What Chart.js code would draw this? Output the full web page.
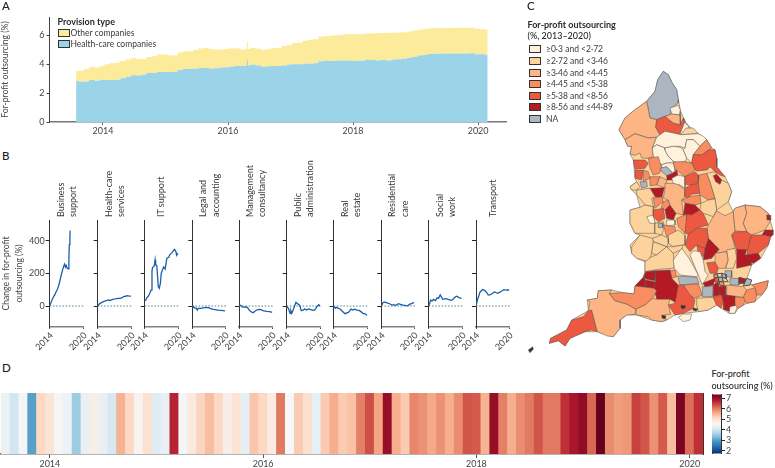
<!DOCTYPE html>
<html><head><meta charset="utf-8">
<style>
html,body{margin:0;padding:0;background:#fff;width:775px;height:468px;overflow:hidden}
body{position:relative;font-family:Lato,sans-serif;color:#333}
canvas{position:absolute}
.t{position:absolute;white-space:nowrap;font-size:8.5px;line-height:10px;color:#3a3a3a}
.b{font-weight:700;color:#2a2a2a;font-size:9px}
.l{font-size:11.5px;line-height:12px;font-weight:500;color:#222}
.s{position:absolute;box-sizing:border-box;border:1px solid #333}
.r{transform:rotate(-90deg);transform-origin:0 0;font-size:9px}
</style>
<script src="https://cdn.jsdelivr.net/npm/chart.js@4/dist/chart.umd.min.js"></script>
</head><body>
<script>
// ---------- Panel A ----------
const healthA=[2.83,2.80,2.78,2.90,2.85,2.92,2.90,2.90,2.92,3.02,3.12,3.24,3.22,3.26,3.38,3.38,3.46,3.46,3.46,3.48,3.60,3.67,3.66,3.69,3.73,3.74,3.70,3.72,3.76,3.78,3.84,3.88,3.88,3.90,3.95,3.90,3.82,3.85,3.88,3.88,3.90,3.98,4.00,4.00,4.02,4.02,4.06,4.20,4.24,4.22,4.24,4.26,4.26,4.24,4.22,4.24,4.30,4.28,4.26,4.28,4.26,4.30,4.34,4.38,4.44,4.50,4.60,4.64,4.70,4.72,4.72,4.73,4.73,4.74,4.74,4.73,4.75,4.69,4.68,4.64];
const otherA=[.69,.75,.88,.90,.91,.96,1.10,1.16,1.18,1.20,1.20,1.18,1.14,1.10,1.12,1.16,1.20,1.20,1.16,1.12,1.20,1.21,1.24,1.29,1.35,1.38,1.34,1.30,1.26,1.26,1.26,1.20,1.14,1.14,1.17,1.18,1.16,1.19,1.24,1.26,1.36,1.34,1.46,1.50,1.60,1.66,1.66,1.70,1.70,1.74,1.76,1.78,1.82,1.84,1.84,1.84,1.82,1.86,1.90,1.88,1.91,1.87,1.84,1.82,1.82,1.82,1.78,1.80,1.78,1.78,1.77,1.77,1.77,1.77,1.78,1.78,1.77,1.75,1.74,1.73];
const firstMonthA=2013.57;
const spikeBlue=[[2016.31,3.88],[2016.31,4.27]];
const spikeYellow=[[2016.31,5.0],[2016.31,5.55]];

// ---------- Panel B ----------
const panelNames=[["Business","support"],["Health-care","services"],["IT support"],["Legal and","accounting"],["Management","consultancy"],["Public","administration"],["Real","estate"],["Residential","care"],["Social","work"],["Transport"]];
const panelLefts=[49.7,97.7,144.7,192.3,239,286.7,333.7,381.3,428.7,476];
const businessSupport=[[2014,0],[2014.15,14],[2014.3,27],[2014.5,45],[2014.7,58],[2014.9,68],[2015.1,85],[2015.4,105],[2015.6,125],[2015.85,160],[2016.05,190],[2016.3,222],[2016.5,245],[2016.65,257],[2016.8,240],[2016.95,250],[2017.1,233],[2017.3,229],[2017.42,290],[2017.5,377],[2017.6,430],[2017.65,465]];
const healthServices=[[2014,0],[2014.2,10],[2014.42,16],[2014.7,21],[2015,27],[2015.4,31],[2015.9,37],[2016.2,34],[2016.8,43],[2017.2,44],[2017.6,47],[2018,47],[2018.3,50],[2018.6,58],[2019,60],[2019.2,64],[2019.5,62],[2019.9,60]];
const itSupport=[[2014,32],[2014.2,37],[2014.35,50],[2014.6,58],[2014.85,74],[2015.15,99],[2015.3,215],[2015.4,237],[2015.7,245],[2015.85,284],[2015.95,253],[2016.15,249],[2016.3,181],[2016.42,119],[2016.6,109],[2016.8,140],[2016.95,202],[2017.2,225],[2017.35,240],[2017.65,228],[2017.95,294],[2018.3,300],[2018.45,315],[2018.9,330],[2019.3,348],[2019.55,336],[2019.7,312],[2019.95,325]];
const legalAccounting=[[2014,-3],[2014.15,-8],[2014.3,-6],[2014.5,-14],[2014.7,-12],[2014.9,-25],[2015.1,-14],[2015.5,-14],[2016,-12],[2016.4,-9],[2016.9,-10],[2017.3,-14],[2017.6,-19],[2018.2,-22],[2018.6,-25],[2019.2,-27],[2020,-30]];
const managementConsultancy=[[2014,0],[2014.3,5],[2014.5,-4],[2014.8,-7],[2015.2,-6],[2015.5,-8],[2015.95,-30],[2016.3,-38],[2016.55,-41],[2016.95,-29],[2017.5,-21],[2018.0,-22],[2018.3,-29],[2019,-33],[2019.5,-34],[2020,-39]];
const publicAdministration=[[2014,0],[2014.3,-14],[2014.6,-45],[2014.75,-28],[2014.9,-45],[2015.2,-20],[2015.45,5],[2015.65,23],[2016.1,10],[2016.3,5],[2016.6,-29],[2017,-24],[2017.2,-17],[2017.5,-25],[2017.9,-18],[2018.3,-22],[2018.7,-27],[2019,-24],[2019.3,-8],[2019.7,8],[2020,0]];
const realEstate=[[2014,0],[2014.3,-14],[2014.5,-8],[2014.85,-14],[2015.2,-20],[2015.45,-29],[2016,-47],[2016.6,-39],[2017.1,-19],[2017.4,-25],[2017.7,-20],[2018.2,-25],[2018.5,-27],[2018.8,-33],[2019.2,-45],[2019.6,-48],[2020,-58]];
const residentialCare=[[2014,0],[2014.35,23],[2014.7,24],[2015,20],[2015.5,14],[2016,6],[2016.3,8],[2016.6,3],[2017.1,14],[2017.6,9],[2018,5],[2018.5,2],[2018.9,3],[2019.1,10],[2019.6,16],[2020,23]];
const socialWork=[[2014,0],[2014.2,20],[2014.35,37],[2014.6,30],[2014.85,41],[2015.2,33],[2015.5,50],[2015.75,47],[2016.05,68],[2016.5,41],[2017.1,45],[2017.6,40],[2018,35],[2018.3,40],[2018.7,55],[2019.0,60],[2019.4,52],[2019.85,47]];
const transport=[[2014,0],[2014.25,37],[2014.5,62],[2014.7,84],[2015.0,95],[2015.2,101],[2015.6,95],[2016.0,80],[2016.2,68],[2016.6,70],[2016.8,74],[2017.3,87],[2017.9,78],[2018.3,85],[2018.8,95],[2019,101],[2019.5,98],[2019.8,100],[2019.95,95]];
const panelSeries=[businessSupport,healthServices,itSupport,legalAccounting,managementConsultancy,publicAdministration,realEstate,residentialCare,socialWork,transport];
const zeroLine=[[2014,0],[2020.2,0]];

// ---------- Panel D ----------
const stripeValues=[4.4,4.0,4.5,3.0,5.15,4.95,4.6,4.4,3.55,4.35,4.75,4.35,4.1,5.55,5.15,4.65,5.0,4.2,4.35,6.75,4.5,4.85,5.2,5.45,5.15,4.75,4.95,4.3,5.35,5.15,4.8,6.05,4.55,5.3,5.05,4.3,5.3,5.6,5.3,5.4,6.0,6.4,5.7,7.05,5.6,5.3,5.95,5.85,5.65,5.85,5.6,5.9,6.35,6.3,5.55,7.05,6.0,5.6,5.9,6.05,6.35,6.05,6.05,6.65,6.9,7.1,6.2,7.4,5.9,5.75,5.8,6.5,6.35,5.85,6.3,5.45,7.25,6.15,6.65];
const stripeYearTicks={5:"2014",29:"2016",53:"2018",77:"2020"};
const rdbu=["#053061","#2166ac","#4393c3","#92c5de","#d1e5f0","#f7f7f7","#fddbc7","#f4a582","#d6604d","#b2182b","#67001f"];
const colourMin=1.72, colourMax=7.4;

// ---------- Panel C ----------
const mapColours=["#fff1dc","#fdd29b","#fcb583","#f98d60","#ec5840","#b41a24","#adb6c0","#333333"];
const legendLabels=["≥0·3 and <2·72","≥2·72 and <3·46","≥3·46 and <4·45","≥4·45 and <5·38","≥5·38 and <8·56","≥8·56 and ≤44·89","NA"];
const legendRows=[49.3,60.8,72.5,84,95.5,107,119];
const englandOutline=[[663.3,71.3],[668.3,74.7],[672.3,83],[676.7,89.7],[678.3,99.7],[680.7,111.3],[685,121.3],[689,126.3],[698.3,133.7],[706.7,139.7],[711.7,148],[715,149.7],[716.7,158],[716.7,166.7],[725,176.7],[728.3,183.3],[731.7,191.7],[728.3,201.7],[733.3,211.7],[735,208.3],[745,205],[760,206.7],[768.3,213.3],[773,230],[770.7,236.7],[768.3,245],[760.7,258.3],[751.7,265],[746.7,279.3],[751.7,285],[768.3,280.7],[766.7,288.3],[761.7,295],[755,301.7],[746.7,303.3],[738.3,308.3],[735,313.3],[729,313.3],[716.7,305],[708.3,310],[698.3,311.7],[683.3,313.3],[675,315],[666.7,320],[661.7,321.7],[651.7,320],[636.7,315],[626.7,315],[620,320],[620,328.3],[613.3,336.7],[597.3,331.7],[585,331.7],[570,338.3],[565,346],[558.3,340.7],[549.3,343.3],[550.7,338.3],[566.7,330],[571.7,320],[588.3,310.7],[587.3,300],[597.3,298.3],[598.3,290.7],[611.7,290],[623.3,292.7],[634,294],[635,286],[643.3,277.3],[645,271.7],[645,261.7],[636.7,258.3],[631.7,253.3],[630,245],[640,235],[635,233.3],[630,223.3],[630,210],[640,207.3],[636.7,195],[631.7,190],[630,186.7],[636.7,181.7],[635,178.3],[633.3,160],[630,154],[631.7,146.3],[627.7,146.3],[625,139.7],[619,129.7],[625,118],[635,109.7],[646.7,101.3],[655,91.3],[657.7,79.7]];
const mapShapes=[
[1,englandOutline],
[6,[[663.3,71.3],[668.3,74.7],[672.3,83],[676.7,89.7],[678.3,99.7],[678.3,103],[671.7,108],[670,114.7],[665,116.3],[656.7,119.7],[650,118],[646.7,101.3],[655,91.3],[657.7,79.7]]],
[2,[[646.7,101.3],[650,118],[656.7,119.7],[655.7,127.3],[660,134.7],[656.7,137.3],[648.3,138],[635,133.7],[625,139.7],[619,129.7],[625,118],[635,109.7]]],
[2,[[625,139.7],[635,133.7],[648.3,138],[656.7,137.3],[652.3,148],[653.3,156.3],[648.3,158.3],[641.7,158],[640,153],[635,155.3],[630,154],[631.7,146.3],[627.7,146.3]]],
[4,[[656.7,119.7],[665,116.3],[673.3,123],[680,124.7],[683.3,118],[685,121.3],[681.7,129.7],[680,134],[673.3,133],[665,131.3],[660,134.7],[655.7,127.3]]],
[0,[[670,108],[678.3,105.3],[680.7,111.3],[680,115],[671.7,114]]],
[2,[[665,116.3],[670,114.7],[671.7,114],[680,115],[680.7,121.3],[680,124.7],[673.3,123]]],
[0,[[683.3,118],[685,121.3],[681.7,129.7],[680,134],[686,134],[689,126.3],[686,124]]],
[1,[[686,128],[693.3,128],[698.3,133.7],[680.7,134.7]]],
[0,[[656.7,137.3],[660,134.7],[665,131.3],[673.3,133],[680.7,134.7],[698.3,133.7],[703.3,136.3],[706.7,139.7],[700,146.3],[693.3,139.7],[686.7,139.7],[685,148],[680,146.3],[673.3,146.3],[665,148],[656.7,144.7],[652.3,148]]],
[0,[[652.3,148],[656.7,144.7],[665,148],[665,150],[668,156],[675,163],[666.7,163],[661.7,164.7],[653.3,156.3]]],
[0,[[665,148],[673.3,146.3],[680,147.3],[683.3,149.7],[686.7,158],[685,161.7],[675,163],[668,156],[665,150]]],
[0,[[686.7,139.7],[693.3,139.7],[700,146.3],[693.3,154.7],[691.7,163],[686.7,158],[683.3,149.7],[685,148]]],
[3,[[700,146.3],[706.7,139.7],[711.7,148],[709,149.7],[701.7,155],[693.3,154.7]]],
[4,[[691.7,163],[693.3,154.7],[701.7,155],[709,149.7],[715,149.7],[716.7,158],[716.7,166.7],[725,176.7],[720,175],[715,171.7],[710,166.7],[707.3,170],[696.7,171],[695,170]]],
[0,[[661.7,164.7],[666.7,163],[675,163],[673.3,161.7],[675,170],[673,173.3],[666.7,166.7],[661.7,168.3]]],
[4,[[633.3,160],[645,160],[648.3,163.3],[645,168.3],[635,169]]],
[3,[[648.3,158.3],[658.3,156.7],[661.7,168.3],[659.3,173.3],[653.3,175],[650,168.3]]],
[3,[[673.3,161.7],[685,161.7],[691.7,163],[695,170],[685,176.7],[676.7,170],[675,170]]],
[6,[[660,168.3],[666.7,166.7],[672.7,173.3],[666.7,175.7],[661.7,171.7]]],
[5,[[666.7,175.7],[673,173.3],[676.7,170],[678,175],[675,180],[667,180]]],
[4,[[635,170],[643.3,170],[641.7,180],[635,178.3]]],
[3,[[643.3,170],[648.3,171.7],[650,178.3],[643.3,181.7]]],
[1,[[630,186.7],[636.7,181.7],[640,186.7],[636.7,190],[631.7,190]]],
[6,[[640,181.7],[646.7,181.7],[647.3,186.7],[641.7,188.3]]],
[3,[[650,176.7],[660,176.7],[656.7,185],[650,185.7]]],
[2,[[660,176.7],[667,180],[665,188.3],[664.3,187.7],[656.7,185]]],
[5,[[650,188.3],[664.3,187.7],[661.7,198.3],[655,196.7]]],
[1,[[636.7,190],[650,188.3],[655,196.7],[651.7,198.3],[653.3,206.7],[645,205],[640,198.3],[636.7,195]]],
[1,[[630,210],[640,207.3],[645,205],[653.3,206.7],[653.3,216.7],[655,223.3],[655,233.3],[646.7,233.3],[635,233.3],[630,223.3]]],
[0,[[646.7,216.7],[653.3,215],[655,223.3],[650,223.3]]],
[3,[[653.3,198.3],[661.7,196.7],[663.3,201.7],[655,208.3]]],
[3,[[663.3,201.7],[668.3,200],[670,205],[665,210],[661,208]]],
[4,[[653.3,210],[663.3,208.3],[665,218.3],[658.3,221.7],[653.3,216.7]]],
[5,[[665,210],[670,205],[676,213.3],[673.3,220],[666.7,218.3]]],
[2,[[665,183.3],[676.7,183.3],[685,190],[685,196.7],[681.7,200],[683.3,215],[676,213.3],[670,205],[668.3,200],[663.3,198.3],[665,188.3]]],
[0,[[671.7,178.3],[678,175],[685,176.7],[685,188.3],[680,185],[673.3,183.3]]],
[4,[[685,176.7],[695,171.7],[698.3,175],[698.3,183.3],[693.3,185],[685,184.3]]],
[4,[[690,185],[699.3,183.3],[700,193.3],[691.7,194.3],[688.3,198.3],[685,196.7],[685,188.3]]],
[3,[[699.3,175],[706.7,173.3],[710,181.7],[715,198.3],[708.3,200],[700,195],[698.3,183.3]]],
[3,[[689.3,196.7],[700,195],[701,203.3],[695,205],[685,203.3],[681.7,200]]],
[1,[[706.7,173.3],[715,171.7],[718.3,178.3],[728.3,183.3],[731.7,191.7],[728.3,201.7],[716.7,210],[715,198.3],[710,181.7]]],
[5,[[713.3,175.7],[716.7,174.3],[721.7,180],[720,184.3],[715.7,181.7]]],
[1,[[701,203.3],[708.3,200],[715,199],[716.7,210],[713.3,216.7],[703.3,213.3],[700,210]]],
[5,[[683.3,215],[685,203.3],[695,205],[700,210],[691.7,215],[686.7,214.3]]],
[3,[[676.7,218.3],[686.7,214.3],[686.7,225],[685,233.3],[678.3,226.7]]],
[4,[[686.7,214.3],[691.7,215],[700,210],[703.3,213.3],[708.3,225],[696.7,228.3],[688.3,234.3],[685,233.3]]],
[2,[[708.3,225],[713.3,216.7],[716.7,211],[725,215.7],[733.3,211.7],[735,231],[731.7,235],[735,248.3],[726.7,251.7],[715,253.3],[719,249.3],[708.3,238.3],[707,228.3]]],
[2,[[733.3,211.7],[735,208.3],[745,205],[746.7,213.3],[743.3,223.3],[748.3,235],[746.7,231.7],[735,231]]],
[2,[[745,205],[760,206.7],[768.3,213.3],[770,221.7],[765,230],[751.7,235],[748.3,235],[743.3,223.3],[746.7,213.3]]],
[5,[[766.7,215],[770,215],[770.7,220],[767,220]]],
[5,[[765,230],[773,230],[773,235],[770.7,236.7],[762,235]]],
[4,[[735,231.7],[746.7,231.7],[751.7,235],[750,240],[750,250],[736.7,250],[731.7,235]]],
[4,[[751.7,235],[765,235],[770.7,236.7],[768.3,245],[758.3,253.3],[746.7,255],[750,240]]],
[5,[[736.7,249.3],[746.7,250],[745,255],[750,255],[751.7,265],[736.7,268.3],[736.7,260]]],
[5,[[746.7,255],[758.3,253.3],[760.7,258.3],[753.3,263.3],[750,261.7]]],
[5,[[708.3,238.3],[719,249.3],[711.7,258.3],[703.3,260],[705,248.3]]],
[4,[[698.3,245],[705,248.3],[703.3,256.7],[698.3,253.3],[696.7,245]]],
[4,[[685,245],[688.3,234.3],[696.7,228.3],[707,228.3],[708.3,238.3],[705,248.3],[696.7,245],[690,251.7]]],
[1,[[655,223.3],[663.3,221.7],[664.3,226.7],[661.7,235],[655,233.3]]],
[0,[[666.7,220],[675,220],[675,225],[666.7,225.7]]],
[6,[[658.3,223.3],[662.7,223.3],[662.7,227.7],[658.3,227.7]]],
[3,[[663.3,225],[675,226.7],[676,235],[666.7,236.7]]],
[1,[[668.3,235],[678.3,230],[685,235],[685,245],[683.3,245],[673.3,246.7],[668.3,243.3]]],
[1,[[652.3,238.3],[661.7,235],[668.3,238.3],[668.3,243.3],[666.7,246.7],[653.3,241.7]]],
[1,[[631.7,246.7],[640,235],[652.3,238.3],[653.3,241.7],[651.7,253.3],[648.3,261.7],[636.7,258.3],[631.7,253.3]]],
[1,[[653.3,241.7],[666.7,246.7],[656.7,255],[651.7,253.3]]],
[1,[[666.7,246.7],[673.3,246.7],[683.3,245],[681.7,249.3],[673.3,253.3]]],
[1,[[656.7,255],[666.7,246.7],[673.3,253.3],[674.3,265],[673.3,268.3],[658.3,269.3],[645,271.7],[645,261.7],[651.7,256.7]]],
[0,[[673.3,260],[681.7,248.3],[689,258.3],[698.3,275],[696.7,276.7],[680,275],[674.3,268.3]]],
[0,[[690,255],[693.3,250.7],[700,251.7],[703.3,260],[705,271.7],[708.3,275],[702.3,285],[698.3,275]]],
[3,[[670,270.7],[675,270],[676.7,276.7],[671.7,278.3]]],
[6,[[677.7,276],[696.7,277.3],[699,283.3],[680,285]]],
[5,[[635,286],[643.3,277.3],[645.7,280],[645,287.3]]],
[5,[[645.7,271.7],[655.7,270.7],[655,280.7],[646.7,279.3],[643.3,277.3]]],
[5,[[645.7,280],[655,281.7],[654,288.3],[645,287.3]]],
[5,[[655.7,270.7],[670,270],[671.7,278.3],[678.3,285],[676.7,303.3],[670,299.3],[656.7,299.3],[654,288.3],[655,281.7]]],
[4,[[678.3,285],[683.3,285],[695,300],[693.3,308.3],[683.3,313.3],[675,315],[668.3,305],[675,303.3]]],
[3,[[683.3,285],[698.3,284],[702.3,295],[695,298.3],[690,295]]],
[6,[[702.3,286.7],[713.3,286],[712.3,296.7],[702.3,296.7]]],
[5,[[703,283],[715,278.3],[713.3,285],[705,286.7]]],
[5,[[713.3,285],[718.3,281.7],[720,295],[713.3,296.7]]],
[5,[[718.3,286.7],[725.7,285.7],[725.7,295],[720,295]]],
[4,[[706.7,262.7],[716.7,261.7],[718.3,268.3],[716.7,273.3],[710,273.3]]],
[2,[[715,253.3],[726.7,251.7],[728.3,260],[725,268.3],[718.3,268.3],[715,261.7]]],
[1,[[726.7,250],[735,248.3],[736.7,258.3],[733.3,268.3],[725.7,268.3],[728.3,260]]],
[6,[[725,270.7],[731.7,270.7],[731.7,277.3],[725,276.7]]],
[6,[[730,278.3],[739,278.3],[739,285],[730,285]]],
[5,[[739,277.3],[746.7,279.3],[745,283.3],[739,283.3]],1],
[6,[[746.7,278.3],[751.7,280],[750,285],[743.3,286]],1],
[3,[[713.7,274.7],[717,273.7],[718.3,277.3],[714.3,278]],1],
[1,[[717,273.7],[721.7,273.3],[722.3,277.3],[718.3,277.3]],1],
[6,[[721.7,273.3],[726.7,274.7],[726,278.7],[722.3,277.3]],1],
[4,[[714.3,278],[718.3,277.3],[719,281.7],[715,282]],1],
[6,[[718.3,277.3],[722.3,277.3],[723.3,281.7],[719,281.7]],1],
[1,[[722.3,277.3],[726,278.7],[728.3,281.7],[723.3,281.7]],1],
[3,[[719,281.7],[723.3,281.7],[724.3,285.7],[720,285.7]],1],
[1,[[696.7,298.3],[713.3,297.3],[716.7,305],[708.3,310],[698.3,311.7],[696.7,305]]],
[4,[[713.3,297.3],[721.7,295],[723.3,301.7],[721,308.3],[716.7,305]]],
[5,[[721.7,295],[735,295],[735.7,305],[730,311.7],[723.3,309.3],[723.3,301.7]]],
[0,[[730,306.7],[737.7,305],[735,313.3],[729,313.3]]],
[3,[[735,296.7],[746.7,298.3],[743.3,305],[738.3,308.3],[735.7,305]]],
[2,[[726.7,285],[743.3,286.7],[746.7,290],[743.3,297.3],[726.7,295]]],
[3,[[743.3,297.3],[746.7,290],[755,287.7],[756.7,295],[755,301.7],[746.7,303.3]]],
[3,[[751.7,285],[768.3,280.7],[766.7,288.3],[761.7,295],[756.7,295],[755,287.7]]],
[0,[[678.3,317.3],[683.3,314],[691.7,314],[690,320],[683.3,321.7]]],
[4,[[588.3,310.7],[591.7,310],[597.3,331.7],[591.7,330],[585,331.7],[570,338.3],[565,346],[558.3,340.7],[549.3,343.3],[550.7,338.3],[557.3,335],[566.7,330],[571.7,320],[583.3,316.7]]],
[2,[[587.3,300],[597.3,298.3],[598.3,290.7],[611.7,290],[609.3,293.3],[615,300.7],[626.7,304],[636,309.3],[635,314.3],[626.7,315],[620,320],[620,328.3],[613.3,336.7],[607.3,336],[597.3,331.7],[591.7,310],[588.3,310.7],[590,301.7]]],
[3,[[609.3,293.3],[623.3,292.7],[634,294],[635,286],[654,288.3],[656.7,290.7],[652.7,298.3],[645,305],[636,309.3],[626.7,304],[615,300.7]]],
[2,[[636,309.3],[645,305],[652.7,298.3],[656.7,299.3],[670,299.3],[668.3,305],[670.7,314.3],[663.3,315],[666.7,320],[661.7,321.7],[651.7,320],[648.3,316.7],[636.7,315]]],
[7,[[661.7,315],[666,316],[665,319],[662,318]]],
[7,[[681,305],[686,306],[684,309],[681,308]]],
[7,[[693,308],[698,309],[696,311],[693,310]]],
[7,[[528.3,350],[532.7,346.7],[533.3,349.3],[530,352.7]]]
];

// ---------- helpers ----------
Chart.defaults.font.family="Lato";
Chart.defaults.font.size=9;
Chart.defaults.color="#444";
Chart.defaults.animation=false;
Chart.defaults.responsive=false;
Chart.defaults.devicePixelRatio=1;
Chart.defaults.plugins.legend.display=false;
Chart.defaults.plugins.tooltip.enabled=false;

function addText(txt,x,y,cls,style){
  const d=document.createElement('div');
  d.className='t '+(cls||'');
  d.textContent=txt;d.style.left=x+'px';d.style.top=y+'px';
  if(style)Object.assign(d.style,style);
  document.body.appendChild(d);return d;
}
function addSwatch(x,y,w,h,c){
  const d=document.createElement('div');d.className='s';
  Object.assign(d.style,{left:x+'px',top:y+'px',width:w+'px',height:h+'px',background:c});
  document.body.appendChild(d);
}
function makeCanvas(box){
  const c=document.createElement('canvas');
  const w=box[2]-box[0],h=box[3]-box[1];
  c.width=w;c.height=h;c.style.left=box[0]+'px';c.style.top=box[1]+'px';
  c.style.width=w+'px';c.style.height=h+'px';
  document.body.appendChild(c);return c;
}
// Place a chart so that its plot area lands on plot=[l,t,r,b] inside canvas box=[l,t,r,b]
function place(box,plot,cfg){
  const c=makeCanvas(box);
  cfg.options.layout={autoPadding:false,padding:{top:plot[1]-box[1],right:box[2]-plot[2],left:0,bottom:0}};
  cfg.options.scales.x.afterFit=s=>{s.height=box[3]-plot[3];};
  cfg.options.scales.y.afterFit=s=>{s.width=plot[0]-box[0];};
  return new Chart(c,cfg);
}

// ---------- draw panel A ----------
const monthsA=healthA.map((_,i)=>firstMonthA+i/12);
place([0,8,520,145],[49.5,17,506,122],{type:'line',data:{datasets:[
 {data:healthA.map((v,i)=>({x:monthsA[i],y:v})),fill:'origin',backgroundColor:'#9bd4e8',borderWidth:0,pointRadius:0,stepped:'middle'},
 {data:otherA.map((v,i)=>({x:monthsA[i],y:v})),fill:'-1',backgroundColor:'#fdeb9c',borderWidth:0,pointRadius:0,stepped:'middle'},
 {type:'scatter',yAxisID:'y2',data:spikeBlue,showLine:true,borderColor:'#9bd4e8',borderWidth:1,pointRadius:0,order:-1},
 {type:'scatter',yAxisID:'y2',data:spikeYellow,showLine:true,borderColor:'#fdeb9c',borderWidth:1,pointRadius:0,order:-1}
]},options:{scales:{
 x:{type:'linear',min:2013.145,max:2020.446,grid:{display:true,drawOnChartArea:false,tickLength:3,color:'#666'},border:{color:'#777',width:1.5},ticks:{stepSize:2,includeBounds:false,padding:1,maxRotation:0,color:'#444',callback:v=>String(v)}},
 y:{stacked:true,min:0,max:7.26,grid:{display:true,drawOnChartArea:false,tickLength:3,color:'#444'},border:{color:'#444',width:1},ticks:{stepSize:2,includeBounds:false,padding:2,color:'#444'},title:{display:true,text:'For-profit outsourcing (%)',padding:0,color:'#444',font:{size:8.6}}},
 y2:{display:false,min:0,max:7.26}
}}});
addText('A',2,0,'l');
addText('Provision type',57.5,17,'b');
addSwatch(57.5,28.5,12,8,'#fdeb9c');addText('Other companies',70.5,27.5);
addSwatch(57.5,40,12,8,'#9bd4e8');addText('Health-care companies',70.5,39);

// ---------- draw panel B ----------
panelSeries.forEach((series,i)=>{
  const L=panelLefts[i],R=L+33.7,first=i===0;
  const boxL=first?0:Math.floor(L-22);
  place([boxL,212,Math.ceil(R+8),352],[L,220,R,327],{type:'scatter',data:{datasets:[
    {data:series,showLine:true,borderColor:'#1b5fa8',borderWidth:1.3,pointRadius:0},
    {data:zeroLine,showLine:true,borderColor:'#5f8596',borderWidth:1,borderDash:[1.6,1.6],pointRadius:0,clip:false}
  ]},options:{scales:{
    x:{type:'linear',min:2014,max:2020,grid:{display:true,drawOnChartArea:false,tickLength:2,color:'#555'},border:{color:'#808080',width:1.5},ticks:{stepSize:6,minRotation:45,maxRotation:45,padding:1,labelOffset:2,color:'#444',callback:v=>String(v)}},
    y:{min:-129,max:529,grid:{display:true,drawOnChartArea:false,tickLength:4,color:'#222'},border:{color:'#333',width:1},ticks:{display:first,stepSize:200,includeBounds:false,padding:1,color:'#444'},title:{display:first,text:['Change in for-profit','outsourcing (%)'],padding:0,color:'#444',font:{size:8.6,lineHeight:1.5}}}
  }}});
  const lines=panelNames[i];
  const off=lines.length===2?[11,23.2]:[16.5];
  lines.forEach((t,j)=>addText(t,L+off[j]-5,216.5,'r'));
});
addText('B',2,150,'l');

// ---------- draw panel C ----------
place([525,62,775,360],[525,62,775,360],{type:'scatter',data:{datasets:mapShapes.map((s,i)=>({
  data:s[1].concat([s[1][0]]),showLine:true,fill:'shape',backgroundColor:mapColours[s[0]],borderColor:'#505050',borderWidth:s[2]||0.5,pointRadius:0,order:-i,clip:false
}))},options:{scales:{
  x:{type:'linear',display:false,min:525,max:775},
  y:{type:'linear',display:false,min:62,max:360,reverse:true}
}}});
addText('C',527,0,'l');
addText('For-profit outsourcing',527.5,20,'b');
addText('(%, 2013–2020)',527.5,31,'b',{fontWeight:500});
legendLabels.forEach((t,i)=>{
  const y=legendRows[i];
  addSwatch(529,y-4,12,8,mapColours[i]);
  addText(t,546,y-5);
});

// ---------- draw panel D ----------
function rampColour(v){
  const p=(v-colourMin)/(colourMax-colourMin)*(rdbu.length-1);
  const a=Math.max(0,Math.min(rdbu.length-2,Math.floor(p))),f=p-a;
  const hx=(s,k)=>parseInt(s.substr(1+2*k,2),16);
  const m=[0,1,2].map(k=>Math.round(hx(rdbu[a],k)+(hx(rdbu[a+1],k)-hx(rdbu[a],k))*f));
  return `rgb(${m[0]},${m[1]},${m[2]})`;
}
place([0,386,712,468],[1,393,703,454],{type:'bar',data:{labels:stripeValues.map((_,i)=>i),datasets:[
  {data:stripeValues.map(()=>1),backgroundColor:stripeValues.map(rampColour),borderWidth:0,barPercentage:1,categoryPercentage:1}
]},options:{scales:{
  x:{type:'category',offset:true,afterBuildTicks:s=>{s.ticks=s.ticks.filter(t=>stripeYearTicks[t.value]);},grid:{display:true,drawOnChartArea:false,offset:false,tickLength:4,color:'#555'},border:{color:'#666',width:1.5},ticks:{autoSkip:false,maxRotation:0,padding:1,color:'#444',callback:v=>stripeYearTicks[v]||''}},
  y:{min:0,max:1,grid:{display:false},border:{color:'#aaa',width:1},ticks:{display:false}},
  xTop:{type:'linear',axis:'x',position:'top',afterFit:s=>{s.height=0;},grid:{display:false},border:{color:'#aaa',width:1},ticks:{display:false}},
  yRight:{type:'linear',axis:'y',position:'right',afterFit:s=>{s.width=0;},grid:{display:false},border:{color:'#333',width:1},ticks:{display:false}}
}}});
addText('D',2,362,'l');
addText('For-profit',711.5,369,'b',{fontWeight:500});
addText('outsourcing (%)',711.5,381,'b',{fontWeight:500});
// colour bar
{
 const box=[706,388,775,460],plot=[712,393,721,454];
 new Chart(makeCanvas(box),{type:'bar',data:{labels:['c'],datasets:[
  {data:[[colourMin,colourMax]],barPercentage:1,categoryPercentage:1,borderWidth:0,
   backgroundColor:ctx=>{const a=ctx.chart.chartArea;if(!a)return '#888';
     const g=ctx.chart.ctx.createLinearGradient(0,a.bottom,0,a.top);
     rdbu.forEach((c,i)=>g.addColorStop(i/(rdbu.length-1),c));return g;}}
 ]},options:{layout:{autoPadding:false,padding:{left:plot[0]-box[0],top:plot[1]-box[1],right:0,bottom:box[3]-plot[3]}},scales:{
  x:{display:false,offset:true},
  y:{position:'right',afterFit:s=>{s.width=box[2]-plot[2];},min:colourMin,max:colourMax,grid:{display:true,drawOnChartArea:false,tickLength:4,color:'#222'},border:{color:'#333',width:1},ticks:{stepSize:1,autoSkip:false,includeBounds:false,padding:1,color:'#444',font:{size:9},callback:v=>String(v)}},
  yLeft:{type:'linear',axis:'y',position:'left',afterFit:s=>{s.width=0;},grid:{display:false},border:{color:'#333',width:1},ticks:{display:false}}
 }}});
}
</script>
</body></html>
